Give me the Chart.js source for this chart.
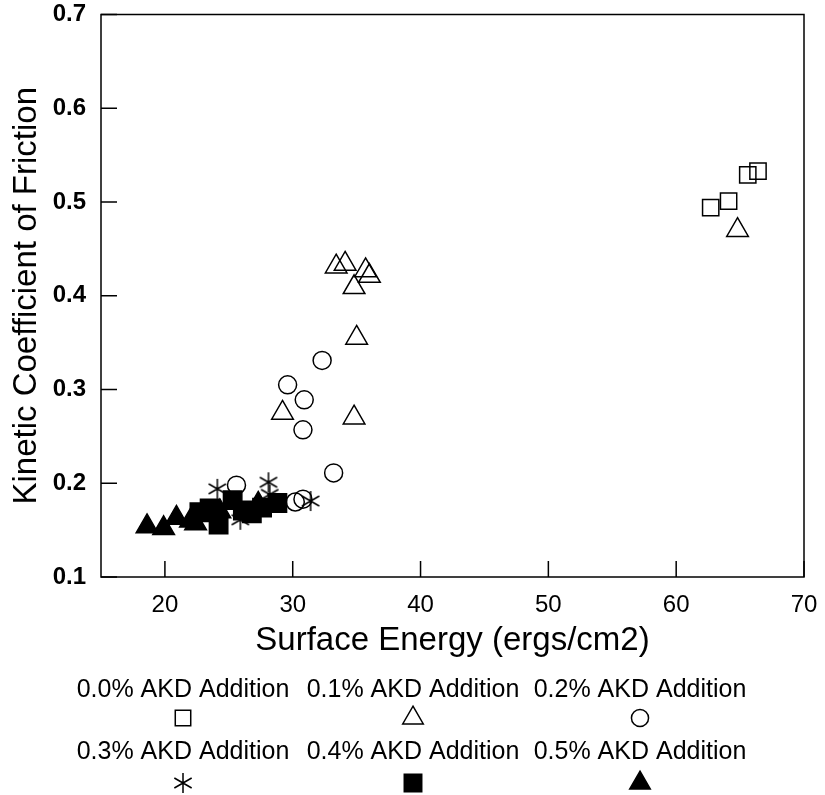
<!DOCTYPE html>
<html>
<head>
<meta charset="utf-8">
<script src="https://cdn.jsdelivr.net/npm/chart.js@4.4.0/dist/chart.umd.min.js"></script>
<style>
  html, body { margin: 0; padding: 0; background: #fff; }
</style>
</head>
<body>
<canvas id="chart" width="825" height="795"></canvas>
<script>
const seriesLabels = ['0.0% AKD Addition', '0.1% AKD Addition', '0.2% AKD Addition',
                      '0.3% AKD Addition', '0.4% AKD Addition', '0.5% AKD Addition'];

// surface energy (ergs/cm2) and kinetic coefficient of friction, per AKD level
const energy00 = [62.7, 64.1, 65.6, 66.4];
const cof00    = [0.494, 0.501, 0.529, 0.533];

const energy01 = [33.4, 34.1, 35.7, 36.0, 34.8, 35.0, 29.2, 34.8, 64.8];
const cof01    = [0.431, 0.434, 0.427, 0.421, 0.409, 0.355, 0.275, 0.270, 0.470];

const energy02 = [32.3, 29.6, 30.9, 30.8, 33.2, 25.6, 30.2, 30.8];
const cof02    = [0.331, 0.305, 0.289, 0.257, 0.211, 0.198, 0.180, 0.183];

const energy03 = [24.1, 28.1, 28.2, 25.9, 31.4];
const cof03    = [0.194, 0.201, 0.188, 0.161, 0.181];

const energy04 = [22.7, 23.5, 24.2, 25.3, 26.1, 26.8, 27.6, 28.8];
const cof04    = [0.169, 0.173, 0.156, 0.182, 0.171, 0.168, 0.174, 0.179];

const energy05 = [18.6, 19.9, 20.9, 22.0, 22.4, 24.3, 27.3];
const cof05    = [0.154, 0.152, 0.163, 0.160, 0.157, 0.170, 0.178];

const xTicks = [20, 30, 40, 50, 60, 70];
const yTicks = [0.1, 0.2, 0.3, 0.4, 0.5, 0.6, 0.7];

const FONT = '"Liberation Sans", Arial, Helvetica, sans-serif';

function toPoints(xs, ys) {
  return xs.map((x, i) => ({ x: x, y: ys[i] }));
}

// six-armed asterisk used for the 0.3% series
function makeStar(size) {
  const c = document.createElement('canvas');
  c.width = size; c.height = size;
  const g = c.getContext('2d');
  const r = size / 2 - 1;
  g.strokeStyle = '#000';
  g.lineWidth = 1.5;
  g.beginPath();
  for (let k = 0; k < 3; k++) {
    const a = Math.PI / 2 + k * Math.PI / 3;
    g.moveTo(size / 2 + Math.cos(a) * r, size / 2 - Math.sin(a) * r);
    g.lineTo(size / 2 - Math.cos(a) * r, size / 2 + Math.sin(a) * r);
  }
  g.stroke();
  return c;
}
const starImg = makeStar(22);

function series(label, xs, ys, style, radius, fill) {
  return {
    label: label,
    data: toPoints(xs, ys),
    showLine: false,
    pointStyle: style,
    pointRadius: radius,
    pointHoverRadius: radius,
    pointBorderWidth: 1.5,
    borderColor: '#000',
    backgroundColor: fill ? '#000' : 'rgba(0,0,0,0)'
  };
}

const datasets = [
  series(seriesLabels[0], energy00, cof00, 'rect', 11.5, false),
  series(seriesLabels[1], energy01, cof01, 'triangle', 12.5, false),
  series(seriesLabels[2], energy02, cof02, 'circle', 9, false),
  series(seriesLabels[3], energy03, cof03, starImg, 11, false),
  series(seriesLabels[4], energy04, cof04, 'rect', 13, true),
  series(seriesLabels[5], energy05, cof05, 'triangle', 12.5, true)
];

// box around the plot plus inward tick marks
const framePlugin = {
  id: 'frame',
  beforeDatasetsDraw(chart) {
    const { ctx, chartArea: a, scales } = chart;
    ctx.save();
    ctx.strokeStyle = '#000';
    ctx.lineWidth = 1.5;
    ctx.strokeRect(a.left, a.top, a.right - a.left, a.bottom - a.top);
    ctx.beginPath();
    xTicks.forEach(v => {
      const px = scales.x.getPixelForValue(v);
      ctx.moveTo(px, a.bottom);
      ctx.lineTo(px, a.bottom - 16);
    });
    yTicks.forEach(v => {
      const py = scales.y.getPixelForValue(v);
      ctx.moveTo(a.left, py);
      ctx.lineTo(a.left + 16, py);
    });
    ctx.stroke();
    ctx.restore();
  }
};

// legend laid out as 2 rows x 3 columns, marker under each label
const legendColX = [183, 413, 640];
const legendTextY = [690, 752];
const legendMarkY = [718, 783];

const legendPlugin = {
  id: 'gridLegend',
  afterDraw(chart) {
    const ctx = chart.ctx;
    ctx.save();
    ctx.font = '25px ' + FONT;
    ctx.textAlign = 'center';
    ctx.textBaseline = 'middle';
    chart.data.datasets.forEach((ds, i) => {
      const row = Math.floor(i / 3), col = i % 3;
      ctx.fillStyle = '#000';
      ctx.fillText(ds.label, legendColX[col], legendTextY[row]);
      ctx.strokeStyle = '#000';
      ctx.fillStyle = ds.backgroundColor;
      ctx.lineWidth = ds.pointBorderWidth;
      Chart.helpers.drawPoint(ctx, {
        pointStyle: ds.pointStyle,
        radius: ds.pointRadius * 0.95,
        borderWidth: ds.pointBorderWidth,
        rotation: 0
      }, legendColX[col], legendMarkY[row]);
    });
    ctx.restore();
  }
};

new Chart(document.getElementById('chart'), {
  type: 'scatter',
  data: { datasets: datasets },
  options: {
    responsive: false,
    animation: false,
    layout: { padding: { left: 0, top: 14, right: 21, bottom: 128 } },
    plugins: { legend: { display: false }, tooltip: { enabled: false } },
    scales: {
      x: {
        type: 'linear',
        min: 15, max: 70,
        afterBuildTicks: s => { s.ticks = xTicks.map(v => ({ value: v })); },
        afterFit: s => { s.height = 90; s.paddingLeft = 0; s.paddingRight = 0; },
        grid: { display: false, drawTicks: false },
        border: { display: false },
        ticks: { color: '#000', padding: 14, font: { family: FONT, size: 24 } },
        title: {
          display: true,
          text: 'Surface Energy (ergs/cm2)',
          color: '#000',
          padding: { top: 0, bottom: 6 },
          font: { family: FONT, size: 33 }
        }
      },
      y: {
        type: 'linear',
        min: 0.1, max: 0.7,
        afterBuildTicks: s => { s.ticks = yTicks.map(v => ({ value: v })); },
        afterFit: s => { s.width = 101; s.paddingTop = 0; s.paddingBottom = 0; },
        grid: { display: false, drawTicks: false },
        border: { display: false },
        ticks: {
          color: '#000', padding: 15,
          font: { family: FONT, size: 24, weight: 'bold' },
          callback: v => v.toFixed(1)
        },
        title: {
          display: true,
          text: 'Kinetic Coefficient of Friction',
          color: '#000',
          padding: { top: 7, bottom: 0 },
          font: { family: FONT, size: 33 }
        }
      }
    }
  },
  plugins: [framePlugin, legendPlugin]
});
</script>
</body>
</html>
